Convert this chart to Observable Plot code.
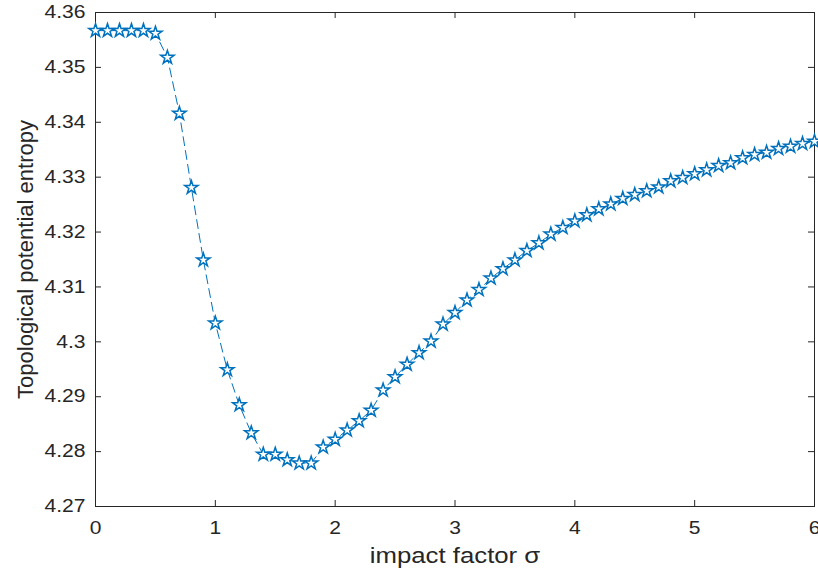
<!DOCTYPE html>
<html><head><meta charset="utf-8">
<script src="https://cdn.jsdelivr.net/npm/d3@7"></script>
<script src="https://cdn.jsdelivr.net/npm/@observablehq/plot@0.6"></script>
<style>body{margin:0;background:#fff} svg{display:block}</style>
</head><body><div id="chart"></div>
<script>
const sigma = [0.0,0.1,0.2,0.3,0.4,0.5,0.6,0.7,0.8,0.9,
  1.0,1.1,1.2,1.3,1.4,1.5,1.6,1.7,1.8,1.9,
  2.0,2.1,2.2,2.3,2.4,2.5,2.6,2.7,2.8,2.9,
  3.0,3.1,3.2,3.3,3.4,3.5,3.6,3.7,3.8,3.9,
  4.0,4.1,4.2,4.3,4.4,4.5,4.6,4.7,4.8,4.9,
  5.0,5.1,5.2,5.3,5.4,5.5,5.6,5.7,5.8,5.9,6.0];
const entropy = [4.3567,4.3567,4.3567,4.3567,4.3567,4.3562,4.3518,4.3416,4.3281,4.3149,
  4.3034,4.2949,4.2885,4.2834,4.2795,4.2795,4.2785,4.2779,4.2779,4.2808,
  4.2822,4.2839,4.2856,4.2875,4.2912,4.2936,4.2959,4.2980,4.3001,4.3032,
  4.3053,4.3076,4.3095,4.3116,4.3133,4.3149,4.3166,4.3180,4.3196,4.3208,
  4.3220,4.3231,4.3242,4.3251,4.3261,4.3268,4.3275,4.3282,4.3293,4.3299,
  4.3306,4.3313,4.3321,4.3326,4.3335,4.3341,4.3345,4.3352,4.3356,4.3361,4.3365];
const xTicks = [0,1,2,3,4,5,6];
const xTickLabels = ["0","1","2","3","4","5","6"];
const yTicks = [4.27,4.28,4.29,4.30,4.31,4.32,4.33,4.34,4.35,4.36];
const yTickLabels = ["4.27","4.28","4.29","4.3","4.31","4.32","4.33","4.34","4.35","4.36"];
const xLabel = "impact factor σ";
const yLabel = "Topological potential entropy";

const data = sigma.map((s, i) => ({sigma: s, entropy: entropy[i]}));
const W = 818, H = 572, mL = 95, mR = 4, mT = 12, mB = 66;
const frameW = W - mL - mR, frameH = H - mT - mB;
const tick = 6;
const ink = "#262626", blue = "#0072BD";

const plot = Plot.plot({
  width: W, height: H,
  marginLeft: mL, marginRight: mR, marginTop: mT, marginBottom: mB,
  style: {fontFamily: "'Liberation Sans', Arial, sans-serif", color: ink, background: "white"},
  x: {domain: [0, 6]},
  y: {domain: [4.27, 4.36]},
  marks: [
    Plot.ruleX(xTicks, {stroke: ink, insetTop: frameH - tick}),
    Plot.ruleX(xTicks, {stroke: ink, insetBottom: frameH - tick}),
    Plot.ruleY(yTicks, {stroke: ink, insetRight: frameW - tick}),
    Plot.ruleY(yTicks, {stroke: ink, insetLeft: frameW - tick}),
    Plot.axisX(xTicks, {tickSize: 0, tickPadding: 15, fontSize: 18, fill: ink,
      tickFormat: d => xTickLabels[xTicks.indexOf(d)], label: null}),
    Plot.axisY(yTicks, {tickSize: 0, tickPadding: 10, fontSize: 18, fill: ink,
      tickFormat: d => yTickLabels[yTicks.indexOf(d)], label: null}),
    Plot.frame({stroke: ink}),
    Plot.line(data, {x: "sigma", y: "entropy", stroke: blue, strokeWidth: 1, strokeDasharray: "9,5"}),
    Plot.dot(data, {x: "sigma", y: "entropy", symbol: "star", r: 4.2, stroke: blue, strokeWidth: 1.5, fill: "white"}),
    Plot.text([xLabel], {frameAnchor: "bottom", textAnchor: "middle", lineAnchor: "middle", dy: 49, fontSize: 22, fill: ink}),
    Plot.text([yLabel], {frameAnchor: "left", textAnchor: "middle", lineAnchor: "middle", rotate: -90, dx: -70, fontSize: 22, fill: ink})
  ]
});
document.getElementById("chart").append(plot);
const stretch = 1.17;
plot.querySelectorAll("text").forEach(t => {
  if (t.textContent === yLabel) return;
  const w = t.getComputedTextLength();
  t.setAttribute("textLength", (w * stretch).toFixed(1));
  t.setAttribute("lengthAdjust", "spacingAndGlyphs");
});
</script>
</body></html>
